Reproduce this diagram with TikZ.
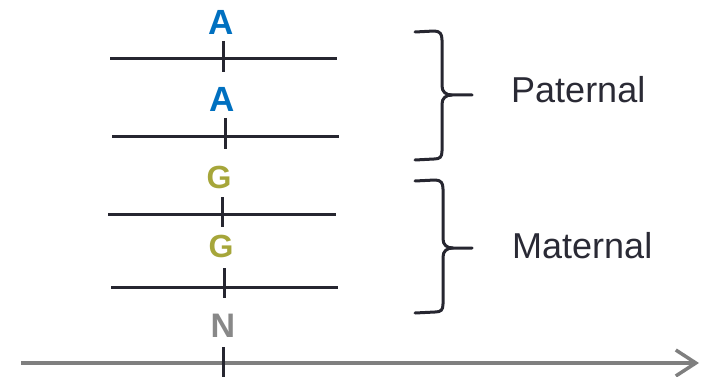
\documentclass[tikz,border=0pt]{standalone}
\usepackage{fontspec}
\setmainfont{Liberation Sans}
\usetikzlibrary{arrows.meta}
\definecolor{strand}{HTML}{262630}
\definecolor{alleleA}{HTML}{0070C0}
\definecolor{alleleG}{HTML}{A6A63A}
\definecolor{alleleN}{HTML}{888888}
\definecolor{axisgray}{HTML}{7F7F7F}
\definecolor{labeltext}{HTML}{2A2A35}
\tikzset{
  strandline/.style={draw=strand, line width=3pt},
  ticklin/.style={draw=strand, line width=3pt},
  bracepath/.style={draw=strand, line width=3pt, line cap=round, line join=round},
  allele/.style={inner sep=0pt, anchor=center, font=\bfseries\fontsize{#1}{#1}\selectfont},
  sidelabel/.style={inner sep=0pt, anchor=base west, text=labeltext, font=\fontsize{36}{36}\selectfont},
}
\begin{document}
\begin{tikzpicture}[x=1pt,y=-1pt]
  \useasboundingbox (0,0) rectangle (704,377);

  % chromosome strands with the marker position
  \draw[strandline] (110,59) -- (337,59);
  \draw[ticklin] (223,41) -- (223,72);
  \draw[strandline] (112,137) -- (339,137);
  \draw[ticklin] (225,118) -- (225,149);
  \draw[strandline] (108,214) -- (336,214);
  \draw[ticklin] (222,197) -- (222,227);
  \draw[strandline] (111,287) -- (338,287);
  \draw[ticklin] (224,268) -- (224,298);

  % alleles
  \node[allele=35, text=alleleA] (a1) at (221,22) {A};
  \node[allele=35, text=alleleA] (a2) at (222,99) {A};
  \node[allele=32, text=alleleG] (g1) at (219,177) {G};
  \node[allele=32, text=alleleG] (g2) at (221,246) {G};
  \node[allele=34, text=alleleN] (n1) at (223,326) {N};

  % position axis
  \coordinate (axL) at (21,363);
  \coordinate (axR) at (699,363);
  \draw[draw=axisgray, line width=3.5pt, -{Straight Barb[length=20pt,width=26pt,line width=3.5pt]}] (axL) -- (axR);
  \draw[ticklin] (223,347) -- (223,377);

  % braces
  \draw[bracepath] (415,32) -- (434,31) .. controls (440,31) and (442,34) .. (442,40)
    -- (442,86) .. controls (442,92) and (446,95) .. (452,95) -- (472,95);
  \draw[bracepath] (452,95) .. controls (446,95) and (442,98) .. (442,104)
    -- (442,151) .. controls (442,157) and (440,159) .. (434,159) -- (415,160);
  \draw[bracepath] (415,181) -- (435,180) .. controls (441,180) and (443,183) .. (443,189)
    -- (443,239) .. controls (443,245) and (447,248) .. (453,248) -- (472,248);
  \draw[bracepath] (453,248) .. controls (447,248) and (443,251) .. (443,257)
    -- (443,304) .. controls (443,310) and (441,312) .. (435,312) -- (415,313);

  % brace labels
  \node[sidelabel] (pat) at (511,103) {Paternal};
  \node[sidelabel] (mat) at (512,258) {Maternal};
\end{tikzpicture}
\end{document}
